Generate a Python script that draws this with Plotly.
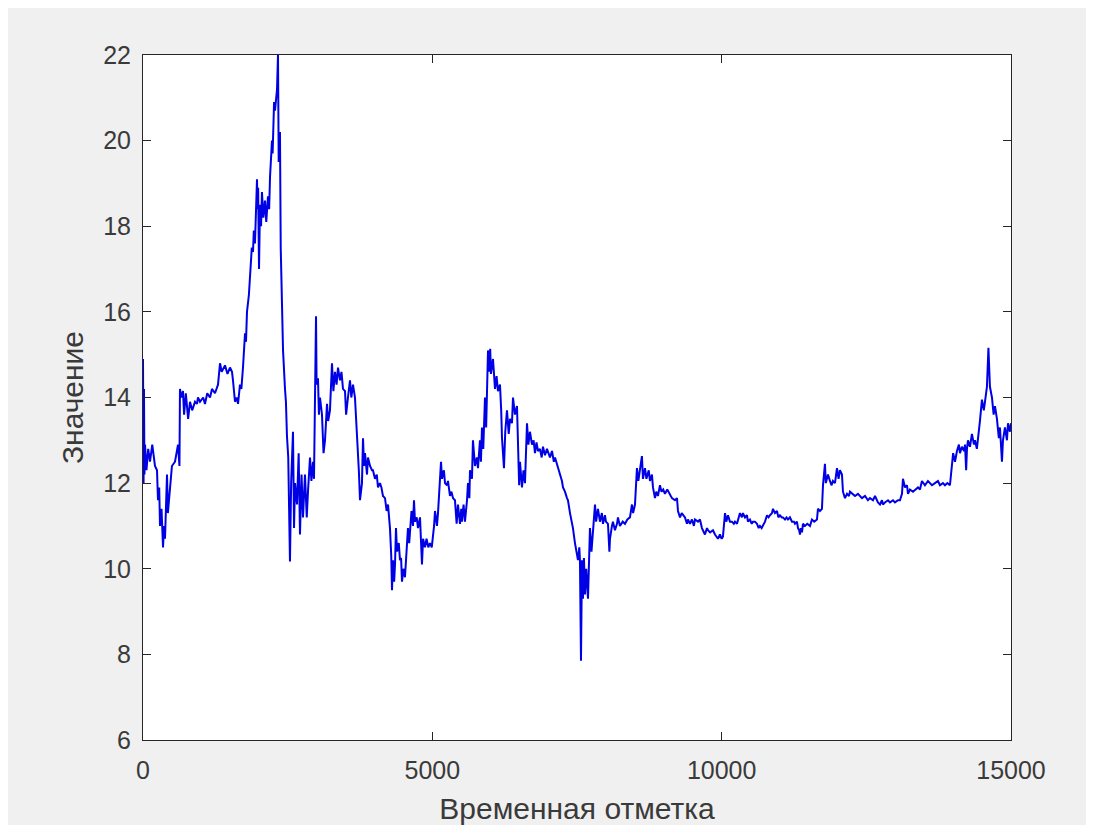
import plotly.graph_objects as go

# Time stamps (x) and values (y)
t = [0, 10, 17, 25, 35, 60, 90, 121, 160, 207, 242, 259, 280, 294, 320, 346, 365, 380, 400, 415,
     430, 467, 500, 553, 605, 630, 639, 660, 691, 710, 740, 780, 812, 850, 899, 933, 950, 985, 1040, 1071,
     1110, 1158, 1192, 1244, 1296, 1331, 1360, 1417, 1460, 1503, 1538, 1555, 1590, 1620, 1642, 1676, 1700, 1728, 1763, 1780,
     1797, 1830, 1849, 1880, 1901, 1915, 1935, 1960, 1970, 1980, 1990, 2005, 2022, 2040, 2056, 2080, 2108, 2130, 2160, 2180,
     2195, 2229, 2240, 2265, 2281, 2316, 2333, 2345, 2367, 2380, 2402, 2420, 2454, 2470, 2488, 2510, 2540, 2560, 2592, 2610,
     2627, 2661, 2690, 2713, 2740, 2765, 2799, 2830, 2851, 2886, 2910, 2938, 2955, 2972, 2990, 3000, 3024, 3040, 3059, 3093,
     3120, 3145, 3180, 3200, 3231, 3266, 3290, 3318, 3345, 3370, 3404, 3430, 3456, 3491, 3510, 3542, 3577, 3600, 3629, 3663,
     3698, 3715, 3730, 3750, 3784, 3802, 3820, 3836, 3871, 3888, 3923, 3957, 3974, 4009, 4040, 4061, 4095, 4120, 4147, 4182,
     4210, 4234, 4268, 4290, 4303, 4320, 4340, 4355, 4372, 4389, 4420, 4441, 4460, 4476, 4500, 4527, 4562, 4579, 4600, 4614,
     4640, 4666, 4683, 4700, 4730, 4752, 4787, 4821, 4840, 4873, 4900, 4930, 4959, 4990, 5011, 5030, 5046, 5080, 5098, 5132,
     5150, 5167, 5200, 5219, 5253, 5270, 5305, 5330, 5357, 5391, 5420, 5443, 5478, 5500, 5512, 5540, 5564, 5599, 5616, 5640,
     5651, 5685, 5702, 5737, 5770, 5789, 5823, 5840, 5858, 5880, 5910, 5930, 5962, 5980, 6000, 6013, 6048, 6083, 6110, 6134,
     6169, 6190, 6204, 6238, 6260, 6290, 6320, 6342, 6376, 6394, 6428, 6463, 6480, 6500, 6515, 6549, 6575, 6601, 6636, 6660,
     6687, 6722, 6750, 6774, 6800, 6826, 6860, 6890, 6912, 6947, 6981, 7033, 7068, 7100, 7120, 7154, 7171, 7206, 7240, 7258,
     7292, 7327, 7344, 7379, 7413, 7430, 7465, 7500, 7517, 7540, 7551, 7569, 7586, 7603, 7620, 7638, 7660, 7690, 7710, 7724,
     7750, 7776, 7811, 7830, 7862, 7897, 7930, 7949, 7983, 8000, 8035, 8060, 8070, 8104, 8121, 8156, 8191, 8208, 8242, 8290,
     8329, 8370, 8415, 8450, 8470, 8502, 8536, 8560, 8588, 8622, 8640, 8675, 8700, 8740, 8761, 8795, 8813, 8848, 8870, 8899,
     8934, 8960, 8990, 9020, 9060, 9107, 9141, 9193, 9228, 9245, 9280, 9310, 9331, 9366, 9400, 9418, 9452, 9487, 9520, 9539,
     9591, 9625, 9659, 9677, 9711, 9746, 9763, 9800, 9850, 9885, 9910, 9936, 9970, 10000, 10022, 10058, 10080, 10109, 10143, 10178,
     10210, 10230, 10265, 10316, 10350, 10368, 10403, 10437, 10454, 10489, 10520, 10541, 10576, 10610, 10640, 10662, 10690, 10714, 10749, 10783,
     10810, 10835, 10870, 10887, 10921, 10956, 10980, 11007, 11040, 11059, 11094, 11120, 11146, 11180, 11215, 11250, 11267, 11301, 11319, 11340,
     11353, 11370, 11388, 11405, 11440, 11480, 11526, 11560, 11600, 11647, 11664, 11699, 11733, 11751, 11785, 11800, 11837, 11871, 11900, 11923,
     11958, 11993, 12020, 12044, 12079, 12096, 12131, 12166, 12200, 12217, 12269, 12304, 12355, 12390, 12425, 12477, 12528, 12563, 12615, 12650,
     12684, 12701, 12736, 12770, 12788, 12822, 12874, 12909, 12961, 12995, 13047, 13081, 13116, 13133, 13168, 13203, 13220, 13254, 13306, 13341,
     13392, 13427, 13461, 13513, 13565, 13600, 13634, 13686, 13738, 13772, 13824, 13859, 13900, 13945, 13980, 14000, 14032, 14066, 14100, 14118,
     14152, 14190, 14205, 14225, 14239, 14256, 14291, 14325, 14360, 14377, 14410, 14429, 14463, 14498, 14530, 14550, 14584, 14610, 14625, 14636,
     14671, 14700, 14723, 14757, 14790, 14809, 14844, 14861, 14896, 14930, 14948, 14982, 15000]

v = [14.9, 12.0, 14.2, 12.2, 12.9, 12.3, 12.8, 12.5, 12.9, 12.4, 12.3, 11.6, 11.9, 11.0, 11.4, 10.5, 11.0, 10.7, 11.6, 12.2,
     11.3, 11.9, 12.4, 12.5, 12.9, 12.4, 14.2, 14.0, 14.15, 13.6, 14.1, 13.5, 13.9, 13.7, 13.9, 13.85, 14.0, 13.9, 14.0, 13.85,
     14.1, 14.0, 14.2, 14.1, 14.3, 14.8, 14.6, 14.75, 14.55, 14.7, 14.6, 14.4, 13.9, 14.0, 13.85, 14.3, 14.2, 14.7, 15.5, 15.3,
     16.0, 16.4, 16.9, 17.5, 17.4, 17.9, 17.6, 18.6, 19.1, 18.4, 18.9, 17.0, 18.5, 18.0, 18.8, 18.2, 18.6, 18.1, 18.7, 18.4,
     19.15, 20.0, 19.7, 20.9, 20.7, 21.2, 22.0, 19.5, 20.2, 17.5, 16.3, 15.1, 14.2, 13.9, 13.1, 12.6, 10.17, 12.0, 13.2, 10.95,
     12.0, 11.5, 12.7, 10.8, 12.2, 11.2, 12.2, 11.2, 11.8, 12.6, 12.05, 12.5, 12.1, 14.9, 15.9, 14.3, 14.45, 13.6, 14.0, 13.6,
     12.7, 13.0, 13.85, 13.45, 13.7, 14.8, 14.15, 14.6, 14.3, 14.7, 14.4, 14.6, 14.2, 14.15, 13.6, 14.0, 14.4, 14.0, 14.3, 14.0,
     13.2, 12.7, 12.3, 11.6, 12.0, 13.05, 12.4, 12.7, 12.2, 12.6, 12.4, 12.3, 12.3, 12.1, 12.2, 11.9, 12.0, 11.9, 11.7, 11.65,
     11.35, 11.5, 10.95, 10.3, 9.5, 10.2, 9.7, 10.1, 10.95, 10.4, 10.6, 10.2, 10.25, 9.7, 10.0, 9.8, 10.5, 10.95, 10.6, 10.9,
     11.35, 11.0, 11.6, 11.1, 11.2, 10.95, 11.2, 10.1, 10.7, 10.5, 10.7, 10.5, 10.6, 10.5, 10.7, 11.0, 11.35, 11.0, 11.3, 11.95,
     12.5, 12.1, 12.3, 12.0, 11.95, 12.05, 11.7, 11.8, 11.65, 11.6, 11.05, 11.5, 11.05, 11.4, 11.1, 11.5, 11.1, 11.6, 12.0, 11.65,
     12.3, 12.1, 13.0, 12.4, 12.6, 12.35, 13.0, 12.5, 13.3, 12.8, 14.0, 13.3, 15.1, 14.6, 15.14, 14.55, 14.9, 14.2, 14.5, 14.15,
     14.3, 13.7, 13.05, 12.35, 13.2, 13.7, 13.15, 13.5, 13.4, 14.0, 13.6, 13.8, 12.8, 11.95, 12.5, 11.9, 12.3, 12.0, 13.4, 12.9,
     13.2, 12.9, 13.0, 12.7, 12.95, 12.75, 12.8, 12.6, 12.85, 12.65, 12.8, 12.6, 12.75, 12.5, 12.6, 12.45, 12.35, 12.2, 12.05, 11.9,
     11.8, 11.65, 11.6, 11.3, 11.1, 10.95, 10.6, 10.35, 10.2, 10.5, 10.2, 7.85, 10.2, 9.3, 10.25, 9.4, 10.0, 9.3, 10.2, 10.95,
     10.4, 10.8, 11.5, 11.1, 11.4, 11.1, 11.3, 11.05, 11.25, 11.1, 11.05, 10.4, 10.7, 11.0, 11.1, 10.9, 11.05, 11.2, 11.0, 11.1,
     11.05, 11.15, 11.2, 11.5, 11.3, 11.5, 12.35, 12.05, 12.3, 12.63, 12.1, 12.35, 12.1, 12.3, 12.05, 12.2, 11.9, 11.65, 11.8, 11.7,
     11.95, 11.8, 11.85, 11.75, 11.85, 11.75, 11.65, 11.6, 11.65, 11.35, 11.2, 11.3, 11.25, 11.2, 11.05, 11.15, 11.05, 11.15, 11.0, 11.15,
     11.1, 11.15, 10.95, 10.9, 10.8, 10.95, 10.9, 10.85, 10.9, 10.8, 10.75, 10.7, 10.8, 10.7, 10.75, 11.3, 11.1, 11.25, 11.1, 11.1,
     11.05, 11.1, 11.05, 11.3, 11.2, 11.3, 11.2, 11.25, 11.1, 11.15, 11.05, 11.1, 11.1, 11.05, 10.95, 11.0, 10.95, 11.0, 11.1, 11.25,
     11.2, 11.25, 11.3, 11.4, 11.3, 11.35, 11.2, 11.25, 11.2, 11.2, 11.15, 11.2, 11.15, 11.2, 11.1, 11.1, 11.05, 11.1, 10.95, 10.9,
     10.8, 10.95, 10.85, 11.05, 11.0, 11.05, 11.0, 11.15, 11.1, 11.15, 11.4, 11.35, 11.4, 11.95, 12.45, 12.0, 12.2, 12.05, 11.95, 12.05,
     12.0, 12.35, 12.1, 12.3, 12.2, 11.8, 11.65, 11.75, 11.7, 11.8, 11.75, 11.7, 11.75, 11.7, 11.65, 11.7, 11.6, 11.65, 11.6, 11.7,
     11.6, 11.55, 11.5, 11.6, 11.5, 11.55, 11.6, 11.55, 11.6, 11.55, 11.6, 11.6, 11.75, 12.1, 11.9, 11.95, 11.75, 11.85, 11.8, 11.85,
     11.9, 11.85, 12.05, 11.95, 12.05, 12.0, 11.95, 12.0, 12.05, 11.95, 12.0, 11.95, 12.0, 11.95, 12.45, 12.7, 12.5, 12.75, 12.9, 12.7,
     12.85, 12.75, 12.9, 12.3, 12.8, 13.0, 12.85, 13.15, 12.9, 13.0, 12.8, 13.0, 13.45, 13.95, 13.7, 13.9, 14.25, 15.16, 14.6, 14.25,
     14.0, 13.6, 13.8, 13.5, 13.05, 13.3, 12.5, 13.0, 13.3, 13.0, 13.4, 13.2, 13.4]

x_ticks = [0, 5000, 10000, 15000]
y_ticks = [6, 8, 10, 12, 14, 16, 18, 20, 22]

fig = go.Figure()
fig.add_trace(go.Scatter(x=t, y=v, mode="lines", line=dict(color="#0000e6", width=2),
                         showlegend=False, hoverinfo="skip"))

axis_common = dict(showline=True, linecolor="#262626", linewidth=1, mirror="ticks",
                   ticks="inside", ticklen=8, tickcolor="#262626", tickwidth=1,
                   showgrid=False, zeroline=False,
                   tickfont=dict(family="Liberation Sans, Arial", size=25, color="#3a3a3a"),
                   title_font=dict(family="Liberation Sans, Arial", size=30, color="#3a3a3a"))

fig.update_xaxes(range=[0, 15000], tickvals=x_ticks, ticktext=[str(x) for x in x_ticks],
                 ticklabelstandoff=8,
                 title_text="Временная отметка", title_standoff=14, **axis_common)
fig.update_yaxes(range=[6, 22], tickvals=y_ticks, ticktext=[str(y) for y in y_ticks],
                 ticklabelstandoff=6,
                 title_text="Значение", title_standoff=10, **axis_common)

fig.update_layout(width=1094, height=825,
                  margin=dict(l=135, r=91, t=47, b=93, pad=0),
                  paper_bgcolor="#f0f0f0", plot_bgcolor="white")

fig.write_html("out.html")
